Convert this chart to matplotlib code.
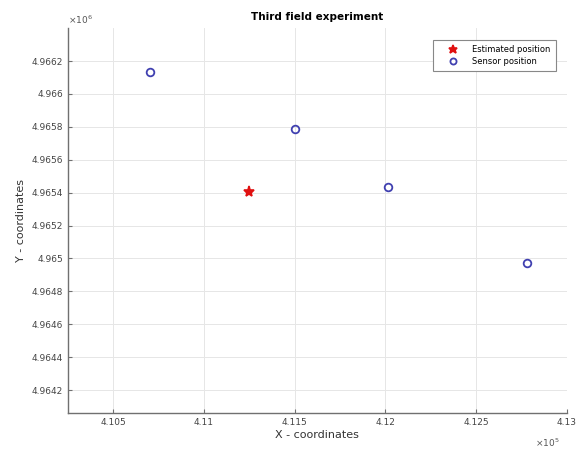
import numpy as np
import matplotlib.pyplot as plt
from matplotlib.ticker import FuncFormatter

# sensor positions
sensor_x = [410702, 411501, 412014, 412780]
sensor_y = [4966133, 4965788, 4965436, 4964970]

# estimated position
est_x = [411248]
est_y = [4965406]

xticks = [410500, 411000, 411500, 412000, 412500, 413000]
yticks = [4964200, 4964400, 4964600, 4964800, 4965000,
          4965200, 4965400, 4965600, 4965800, 4966000, 4966200]

fig = plt.figure(figsize=(5.76, 4.54), dpi=100)
ax = fig.add_axes([0.118, 0.090, 0.866, 0.848])

ax.plot(sensor_x, sensor_y, 'o', mfc='none', mec='#4040b0', mew=1.3, ms=5.5,
        label='Sensor position', zorder=3)
ax.plot(est_x, est_y, '*', color='#e01010', ms=8, mew=1.2,
        label='Estimated position', zorder=3)

ax.set_xlim(410250, 413000)
ax.set_ylim(4964060, 4966400)
ax.set_xticks(xticks)
ax.set_yticks(yticks)
ax.xaxis.set_major_formatter(FuncFormatter(lambda v, p: f"{v/1e5:.4f}".rstrip('0').rstrip('.')))
ax.yaxis.set_major_formatter(FuncFormatter(lambda v, p: f"{v/1e6:.5f}".rstrip('0').rstrip('.')))

ax.grid(True, color='#e6e6e6', lw=0.7)
ax.set_axisbelow(True)
for s in ['top', 'right']:
    ax.spines[s].set_visible(False)
for s in ['left', 'bottom']:
    ax.spines[s].set_color('#707070')
    ax.spines[s].set_linewidth(1.0)
ax.tick_params(direction='in', length=3, labelsize=6.5, colors='#707070',
               labelcolor='#444444')

ax.set_xlabel('X - coordinates', fontsize=8, color='#333333', labelpad=2)
ax.set_ylabel('Y - coordinates', fontsize=8, color='#333333', labelpad=4)
ax.set_title('Third field experiment', fontsize=7.5, fontweight='bold', pad=6)

ax.text(0.0, 1.005, r'$\times10^6$', transform=ax.transAxes, fontsize=6.5,
        color='#555555', ha='left', va='bottom')
ax.text(0.985, -0.062, r'$\times10^5$', transform=ax.transAxes, fontsize=6.5,
        color='#555555', ha='right', va='top')

h, l = ax.get_legend_handles_labels()
leg = ax.legend(h[::-1], l[::-1], loc='upper right', fontsize=6,
                bbox_to_anchor=(0.978, 0.969), borderaxespad=0,
                fancybox=False, framealpha=1, markerscale=0.8,
                edgecolor='#888888', handlelength=3.5, handletextpad=0.6,
                borderpad=0.6, labelspacing=0.3)
leg.get_frame().set_linewidth(0.8)

fig.savefig('out.png', dpi=100)
